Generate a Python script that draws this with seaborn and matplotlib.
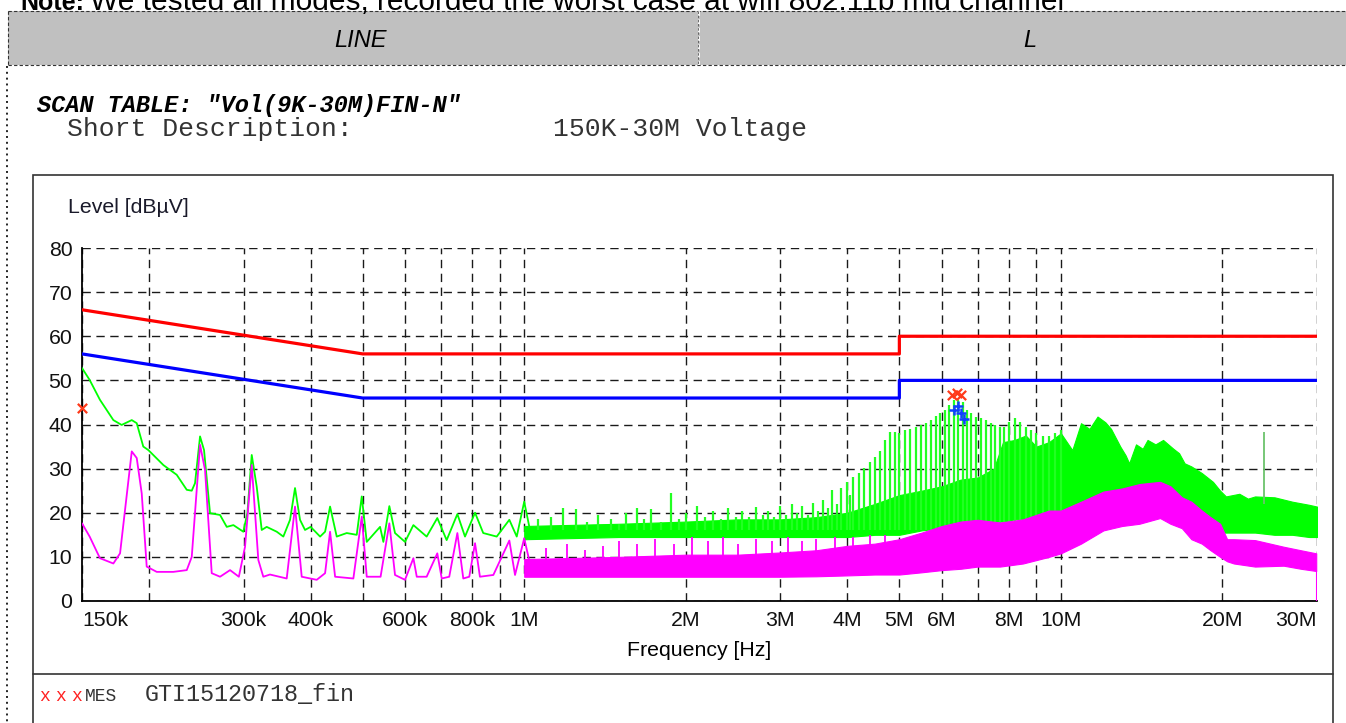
import numpy as np
import pandas as pd
import matplotlib
matplotlib.use("Agg")
import matplotlib.pyplot as plt
import seaborn as sns
from matplotlib.patches import Rectangle
from matplotlib.ticker import FixedLocator, FixedFormatter, NullLocator

sns.set_theme(style="white")
plt.rcParams['font.family'] = ['Liberation Sans', 'DejaVu Sans']

# ---------------- data ----------------
# limit lines (kHz, dBuV)
limit_freq_khz = [150, 500, 5000, 5000, 30000]
limit_qp = [66, 56, 56, 60, 60]
limit_av = [56, 46, 46, 50, 50]

# peak trace, 150 kHz - 1 MHz (kHz, dBuV)
green_lf_khz = [150, 155, 162, 171.6, 177.8, 185.7, 189.7, 195.1, 199.4, 212.7, 225.2, 235.1, 240.2,
                243.6, 248.9, 253.2, 259.8, 271.2, 279.1, 287.2, 299.7, 305, 310.7, 317.4, 324.3, 331.3,
                345.9, 355.8, 366.2, 374.1, 382.2, 390.5, 400, 416.6, 425.6, 434.8, 447.4, 467, 487.5,
                498.1, 508.9, 538.8, 546.5, 560.7, 574.5, 599.7, 621.6, 658, 688.8, 717, 750.7, 775.7,
                809.8, 838.8, 888.7, 938.2, 968.5, 1000, 1025]
green_lf_level = [52.8, 50.1, 45.6, 41.0, 39.9, 41.0, 40.3, 35.0, 34.2, 30.8, 28.6, 25.2, 25.0,
                  26.7, 37.3, 34.2, 19.9, 19.5, 16.8, 17.2, 15.7, 20.0, 33.1, 25.9, 16.1, 16.8,
                  15.7, 14.6, 18.4, 25.6, 18.4, 16.1, 16.8, 14.6, 15.7, 21.4, 14.6, 15.4, 15.0,
                  23.7, 13.4, 16.8, 13.4, 21.5, 15.4, 13.4, 17.2, 14.6, 18.8, 13.8, 19.7, 14.6,
                  20.0, 15.4, 14.6, 18.4, 14.6, 22.5, 16.1]

# average trace, 150 kHz - 1 MHz (kHz, dBuV)
mag_lf_khz = [150, 155, 162, 171.6, 176.6, 180.4, 185.7, 189.7, 193.8, 198, 206.7, 221.9, 235.1,
              240.2, 248.9, 254.3, 261.7, 271.2, 283.1, 294, 301.9, 310.7, 319.6, 326.5, 336, 361,
              374.1, 385, 410.6, 425.6, 434.8, 444.3, 480.5, 498.1, 508.9, 540, 560.7, 574.5, 599.7,
              621.6, 630.7, 658, 688.8, 702, 725, 750.7, 770, 790, 809.8, 827, 876, 938.2, 961.4,
              1000, 1025, 1055]
mag_lf_level = [17.6, 14.6, 9.7, 8.5, 10.8, 20.6, 33.9, 32.4, 24.4, 7.8, 6.6, 6.6, 7.0,
                10.0, 35.4, 29.7, 6.3, 5.5, 7.0, 5.5, 12.3, 30.8, 9.3, 5.5, 6.0, 5.1,
                21.4, 5.5, 4.8, 6.3, 15.7, 5.5, 5.1, 19.1, 5.5, 5.5, 17.6, 5.9, 4.8,
                9.7, 5.5, 5.5, 10.8, 5.1, 5.5, 15.4, 5.1, 5.5, 13.1, 5.5, 5.9, 13.7, 5.9,
                14.2, 8.5, 6.3]

# dense peak band, 1 - 30 MHz (MHz, lower / upper dBuV)
green_band_mhz = [1.0, 1.5, 2.0, 2.5, 3.0, 3.5, 4.0, 4.5, 5.0, 5.5, 6.0, 6.5, 7.0, 7.5, 7.8, 8.2,
                  8.6, 9.0, 9.5, 10.0, 10.5, 10.9, 11.3, 11.7, 12.1, 12.4, 12.9, 13.2, 13.4, 13.8,
                  14.2, 14.5, 15.0, 15.5, 16.2, 16.6, 17.0, 17.5, 18.3, 19.2, 19.8, 20.3, 21.5,
                  22.3, 23.0, 25.0, 27.0, 29.0, 30.0]
green_band_low = [14.0, 14.5, 14.5, 14.5, 14.5, 14.5, 14.5, 15.0, 15.0, 16.0, 16.5, 17.0, 17.5, 18.0,
                  18.0, 18.5, 18.5, 19.0, 19.0, 19.0, 20.0, 21.0, 21.5, 22.0, 22.5, 23.0, 23.5, 23.8,
                  24.0, 24.0, 24.3, 24.5, 24.5, 24.5, 23.5, 22.0, 21.0, 20.0, 18.0, 16.5, 15.5, 15.5,
                  15.5, 15.5, 15.5, 15.0, 15.0, 14.5, 14.5]
green_band_high = [17.0, 17.5, 18.0, 18.5, 18.5, 19.0, 20.0, 22.0, 24.0, 25.0, 26.0, 27.5, 28.0, 30.0,
                   36.0, 36.5, 37.5, 35.0, 36.0, 38.0, 34.2, 40.3, 39.0, 41.8, 40.5, 39.0, 35.0, 33.0,
                   31.2, 35.5, 34.5, 36.5, 35.5, 36.5, 34.5, 33.5, 31.2, 30.5, 29.0, 27.0, 25.0, 23.7,
                   24.3, 23.2, 23.7, 23.5, 22.5, 21.8, 21.4]

# dense average band, 1 - 30 MHz (MHz, lower / upper dBuV)
mag_band_mhz = [1.0, 1.5, 2.0, 2.5, 3.0, 3.5, 4.0, 4.5, 5.0, 5.5, 6.0, 6.5, 7.0, 7.7, 8.5, 9.5, 10.0,
                10.9, 12.0, 13.0, 14.0, 15.3, 16.0, 16.8, 17.5, 18.3, 19.0, 19.8, 20.4, 21.0, 23.0,
                26.0, 28.0, 29.9]
mag_band_low = [5.5, 5.5, 5.5, 5.5, 5.5, 5.6, 5.8, 6.0, 6.0, 6.5, 7.0, 7.3, 7.8, 7.8, 8.5, 10.0, 10.8,
                13.0, 16.0, 17.0, 17.5, 18.8, 17.5, 16.5, 14.0, 13.0, 11.5, 10.0, 9.0, 8.5, 7.8,
                8.0, 7.3, 6.8]
mag_band_high = [9.5, 10.0, 10.5, 10.5, 11.0, 11.5, 12.5, 13.0, 14.0, 15.5, 17.0, 18.0, 18.4, 17.8,
                 18.5, 20.5, 20.5, 22.5, 24.8, 25.5, 26.5, 27.0, 26.0, 23.5, 22.5, 20.5, 19.0, 17.5,
                 14.0, 14.0, 13.8, 12.3, 11.5, 10.8]

# harmonic spikes of the peak trace (MHz, dBuV)
green_spike_mhz = [1.06, 1.12, 1.18, 1.25, 1.31, 1.37, 1.45, 1.5, 1.55, 1.62, 1.67, 1.72, 1.8, 1.88,
                   1.94, 2.0, 2.1, 2.17, 2.25, 2.33, 2.4, 2.48, 2.55, 2.62, 2.7, 2.78, 2.85, 2.92,
                   3.0, 3.08, 3.15, 3.22, 3.3, 3.38, 3.45, 3.52, 3.6, 3.68, 3.75, 3.82, 3.9, 4.0,
                   4.05, 4.1, 4.2, 4.3, 4.4, 4.5, 4.6, 4.7, 4.8, 4.9, 5.0, 5.12, 5.24, 5.36, 5.48,
                   5.6, 5.72, 5.84, 5.96, 6.08, 6.2, 6.32, 6.44, 6.56, 6.68, 6.8, 6.95, 7.1, 7.25,
                   7.4, 7.55, 7.7, 7.85, 8.0, 8.2, 8.4, 8.6, 8.8, 9.0, 9.25, 9.5, 9.75, 10.0]
green_spike_top = [18.5, 19.0, 21.0, 20.8, 18.0, 19.5, 18.5, 17.5, 19.9, 21.0, 18.5, 20.8, 18.0, 24.4,
                   18.5, 20.0, 21.5, 19.0, 20.5, 18.5, 21.0, 19.0, 20.5, 19.0, 21.3, 19.5, 20.5, 19.0,
                   21.5, 19.5, 22.0, 20.0, 21.5, 19.5, 22.3, 20.5, 23.0, 21.0, 25.2, 22.0, 25.5, 27.0,
                   24.0, 28.2, 29.0, 30.2, 31.6, 32.7, 34.0, 36.5, 38.4, 38.4, 38.0, 38.8, 39.0, 39.5,
                   40.0, 40.3, 41.0, 42.0, 42.6, 43.3, 44.5, 45.6, 45.6, 45.0, 43.3, 42.5, 41.8, 41.5,
                   41.0, 40.3, 40.0, 39.5, 39.5, 40.5, 41.4, 40.5, 39.5, 38.8, 38.0, 37.5, 37.3, 38.0,
                   38.8]

# harmonic spikes of the average trace (MHz, dBuV)
mag_spike_mhz = [1.1, 1.2, 1.3, 1.4, 1.5, 1.62, 1.75, 1.9, 2.05, 2.2, 2.35, 2.5, 2.7, 2.9, 3.1, 3.3,
                 3.5, 3.8, 4.1, 4.4, 4.7]
mag_spike_top = [12.0, 13.0, 11.5, 12.5, 13.5, 13.0, 14.0, 13.0, 14.5, 13.5, 14.5, 13.0, 14.0, 13.5,
                 14.5, 13.5, 14.0, 14.5, 14.5, 15.0, 15.0]

# isolated spike near 24 MHz
lone_spike_mhz = [23.9]
lone_spike_top = [38.4]

# final measurement markers
qp_mark_mhz = [0.15, 6.28, 6.40, 6.52]
qp_mark_level = [43.8, 46.7, 47.1, 46.7]
av_mark_mhz = [6.33, 6.43, 6.50, 6.60]
av_mark_level = [43.3, 44.1, 42.7, 41.2]

# axis ticks
grid_freq_hz = [150e3, 200e3, 300e3, 400e3, 500e3, 600e3, 700e3, 800e3, 900e3, 1e6, 2e6, 3e6, 4e6,
                5e6, 6e6, 7e6, 8e6, 9e6, 10e6, 20e6, 30e6]
grid_labels = ['150k', '', '300k', '400k', '', '600k', '', '800k', '', '1M', '2M', '3M', '4M',
               '5M', '6M', '', '8M', '', '10M', '20M', '30M']
y_ticks = [0, 10, 20, 30, 40, 50, 60, 70, 80]

# ---------------- figure ----------------
W, H = 1346, 723
fig = plt.figure(figsize=(W / 100, H / 100), dpi=100)
fig.patch.set_facecolor('white')

# page decoration in pixel coordinates
bg = fig.add_axes([0, 0, 1, 1], zorder=0)
bg.set_xlim(0, W)
bg.set_ylim(H, 0)
bg.axis('off')
bg.add_patch(Rectangle((8, 11), W - 8, 54, facecolor='#c0c0c0', edgecolor='none'))
bg.plot([8, W], [11, 11], color='#333333', lw=0.8, ls=(0, (3, 2)))
bg.plot([8, W], [65, 65], color='#333333', lw=0.8, ls=(0, (3, 2)))
bg.plot([8, 8], [11, 65], color='#333333', lw=0.8, ls=(0, (3, 2)))
bg.plot([699, 699], [11, 65], color='#ffffff', lw=1.2, ls=(0, (3, 2)))
bg.plot([698, 698], [11, 65], color='#555555', lw=0.6, ls=(0, (3, 2)))
bg.plot([7, 7], [66, H], color='#222222', lw=1.4, ls=(0, (1, 2)))

t_note = bg.text(20, 10, 'Note:', fontsize=18, fontweight='bold', va='baseline', ha='left',
                 color='black')
fig.canvas.draw()
note_end = t_note.get_window_extent().x1
bg.text(note_end + 6, 10, 'We tested all modes, recorded the worst case at wifi 802.11b mid channel',
        fontsize=21.5, va='baseline', ha='left', color='black')

bg.text(361, 47, 'LINE', fontsize=17, style='italic', ha='center', va='baseline', color='black')
bg.text(1030, 47, 'L', fontsize=17, style='italic', ha='center', va='baseline', color='black')
bg.text(37, 112, 'SCAN TABLE: "Vol(9K-30M)FIN-N"', family='Liberation Mono', fontsize=17,
        fontweight='bold', style='italic', ha='left', va='baseline', color='black')
bg.text(67, 136, 'Short Description:', family='Liberation Mono', fontsize=19, ha='left',
        va='baseline', color='#333333')
bg.text(553, 136, '150K-30M Voltage', family='Liberation Mono', fontsize=19, ha='left',
        va='baseline', color='#333333')
bg.add_patch(Rectangle((33, 175), 1300, 600, facecolor='white', edgecolor='#333333', lw=1.2))
bg.plot([33, 1333], [674, 674], color='#333333', lw=1.2)
for xm in [39, 55, 71]:
    bg.text(xm, 701, 'x', family='Liberation Mono', fontsize=13, color='#ff2020', ha='left',
            va='baseline')
bg.text(85, 701, 'MES', family='Liberation Mono', fontsize=13, color='#333333',
        ha='left', va='baseline')
bg.text(145, 701, 'GTI15120718_fin', family='Liberation Mono', fontsize=16.8, color='#333333',
        ha='left', va='baseline')
bg.text(68, 213, 'Level [dBµV]', fontsize=15.3, ha='left', va='baseline', color='#1a1a2a')
bg.text(699, 656, 'Frequency [Hz]', fontsize=15.3, ha='center', va='baseline', color='black')

# main axes
ax = fig.add_axes([82 / W, 1 - 601 / H, 1235 / W, 353 / H], zorder=2)
ax.set_facecolor('none')
ax.set_xscale('log')
ax.set_xlim(150e3, 30e6)
ax.set_ylim(0, 80)
ax.set_axisbelow(True)

hz = lambda v, k: [x * k for x in v]

# dense bands
ax.fill_between(hz(green_band_mhz, 1e6), green_band_low, green_band_high, color='#00ff00',
                lw=0.8, edgecolor='#00ff00', zorder=2)
ax.vlines(hz(green_spike_mhz, 1e6), 16, green_spike_top, color='#22ff22', lw=1.6, zorder=2)
ax.vlines(hz(lone_spike_mhz, 1e6), 22, lone_spike_top, color='#6cc36c', lw=1.3, zorder=2)
sns.lineplot(x=hz(green_lf_khz, 1e3), y=green_lf_level, ax=ax, color='#00ff00', lw=1.3,
             sort=False, estimator=None, zorder=3)

ax.fill_between(hz(mag_band_mhz, 1e6), mag_band_low, mag_band_high, color='#ff00ff',
                lw=0.8, edgecolor='#ff00ff', zorder=4)
ax.vlines(hz(mag_spike_mhz, 1e6), 6, mag_spike_top, color='#ff00ff', lw=1.3, zorder=4)
ax.vlines([30e6], 0, 7, color='#ff00ff', lw=1.5, zorder=4)
sns.lineplot(x=hz(mag_lf_khz, 1e3), y=mag_lf_level, ax=ax, color='#ff00ff', lw=1.3,
             sort=False, estimator=None, zorder=5)

# limits
sns.lineplot(x=hz(limit_freq_khz, 1e3), y=limit_qp, ax=ax, color='#ff0000', lw=2.3,
             sort=False, estimator=None, zorder=6)
sns.lineplot(x=hz(limit_freq_khz, 1e3), y=limit_av, ax=ax, color='#0000ff', lw=2.3,
             sort=False, estimator=None, zorder=6)

# markers
sns.scatterplot(x=hz(qp_mark_mhz, 1e6), y=qp_mark_level, ax=ax, marker='x', s=45,
                color='#ff3a1a', linewidth=1.6, zorder=8, clip_on=False)
sns.scatterplot(x=hz(av_mark_mhz, 1e6), y=av_mark_level, ax=ax, marker='+', s=60,
                color='#1040ff', linewidth=1.8, zorder=8)

# axes styling
ax.xaxis.set_major_locator(FixedLocator(grid_freq_hz))
ax.xaxis.set_major_formatter(FixedFormatter(grid_labels))
ax.xaxis.set_minor_locator(NullLocator())
ax.set_yticks(y_ticks)
ax.grid(True, which='major', color='#1a1a1a', linestyle=(0, (6, 4)), lw=1.0)
ax.tick_params(axis='x', direction='in', length=6, width=1, color='black', labelsize=15.3,
               pad=7, labelcolor='#111111')
ax.tick_params(axis='y', direction='in', length=0, labelsize=15.3, pad=7, labelcolor='#111111')
lbls = ax.get_xticklabels()
lbls[0].set_horizontalalignment('left')
lbls[-1].set_horizontalalignment('right')
for s in ['top', 'right']:
    ax.spines[s].set_visible(False)
for s in ['left', 'bottom']:
    ax.spines[s].set_visible(True)
    ax.spines[s].set_color('black')
    ax.spines[s].set_linewidth(1.3)
ax.set_xlabel('')
ax.set_ylabel('')
if ax.get_legend():
    ax.get_legend().remove()

fig.savefig('out.png', dpi=100)
